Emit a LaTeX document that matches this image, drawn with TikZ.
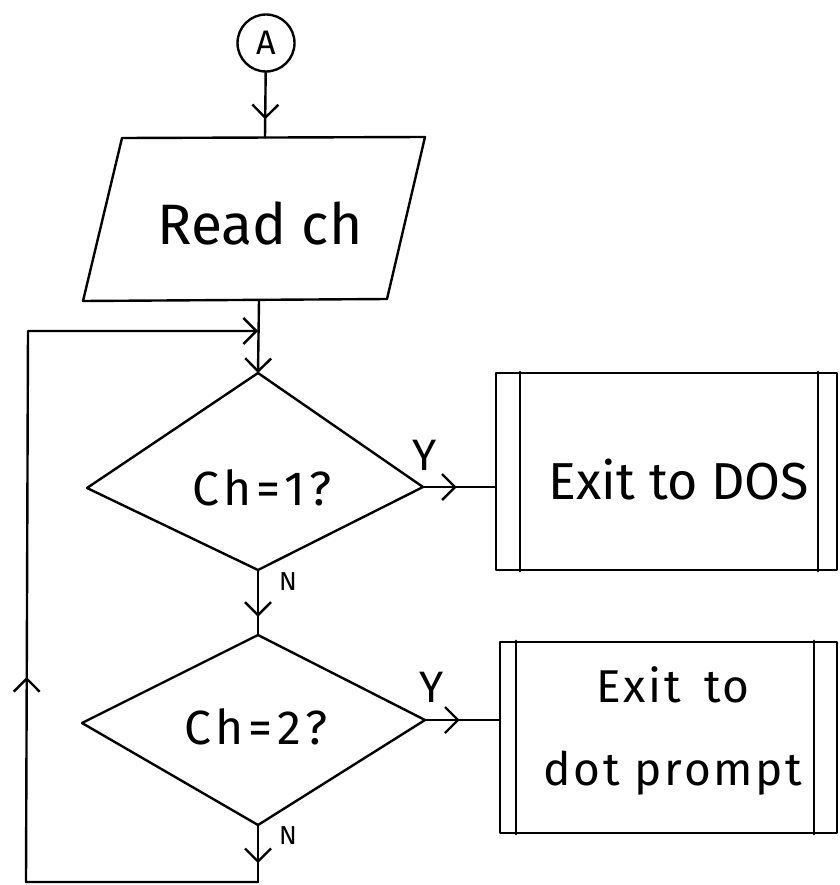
\documentclass[tikz,border=0pt]{standalone}
\usepackage{fontspec}
\setmainfont{Fira Sans}
\usetikzlibrary{arrows.meta,decorations.markings,calc}
\begin{document}
\begin{tikzpicture}[x=1pt,y=-1pt,
  line width=2.4pt, line join=round, line cap=round,
  >={Straight Barb[length=13pt,width=26pt,line width=2.4pt]},
  midarrow/.style={postaction={decorate},decoration={markings,mark=at position #1 with {\arrow{>}}}},
  bigtxt/.style={inner sep=0pt, font=\fontsize{57}{66}\selectfont},
  qtxt/.style={inner sep=0pt, font=\fontsize{48}{54}\selectfont\addfontfeatures{LetterSpace=10}},
  boxtxt/.style={inner sep=0pt, align=center, font=\fontsize{52}{83}\selectfont},
  boxtxtb/.style={inner sep=0pt, align=center, font=\fontsize{46}{83}\selectfont\addfontfeatures{LetterSpace=6}},
  ylbl/.style={inner sep=0pt, font=\fontsize{44}{50}\selectfont},
  nlbl/.style={inner sep=0pt, font=\fontsize{26}{30}\selectfont},
  procbox/.style={draw, inner sep=0pt, rectangle}
]
\useasboundingbox (0,0) rectangle (839,885);

% connector A
\node[circle, draw, minimum size=57pt, inner sep=0pt, font=\fontsize{34}{40}\selectfont] (A) at (266,43) {A};

% parallelogram Read ch
\coordinate (rtl) at (122,138);
\coordinate (rtr) at (425,137);
\coordinate (rbr) at (387,299);
\coordinate (rbl) at (83,301);
\draw (rtl) -- (rtr) -- (rbr) -- (rbl) -- cycle;
\node[bigtxt] (read) at (260,223) {Read ch};
\coordinate (rin) at (265,137.5);
\coordinate (rout) at (259,300);

\draw[midarrow=0.72] (A) -- (rin);

% decision 1
\coordinate (d1n) at (258,373);
\coordinate (d1e) at (423,487);
\coordinate (d1s) at (258,570);
\coordinate (d1w) at (87,488);
\draw (d1n) -- (d1e) -- (d1s) -- (d1w) -- cycle;
\node[qtxt] (q1) at (262,488) {Ch=1?};
\coordinate (j1) at (258,331);
\draw[->] (rout) -- (d1n);

% box 1
\node[procbox, minimum width=341pt, minimum height=197pt] (b1) at (666.5,471.5) {};
\draw ([xshift=25pt]b1.north west) -- ([xshift=25pt]b1.south west);
\draw ([xshift=-20pt]b1.north east) -- ([xshift=-20pt]b1.south east);
\node[boxtxt] (t1) at (679,480) {Exit to DOS};
\draw[midarrow=0.47] (d1e) -- (d1e -| b1.west);
\node[ylbl] (y1) at (425,455) {Y};

% decision 2
\coordinate (d2n) at (258,635);
\coordinate (d2e) at (425,720);
\coordinate (d2s) at (258,825);
\coordinate (d2w) at (82,723);
\draw (d2n) -- (d2e) -- (d2s) -- (d2w) -- cycle;
\node[qtxt] (q2) at (256,727) {Ch=2?};
\draw[midarrow=0.72] (d1s) -- (d2n);
\node[nlbl] (n1) at (288,582) {N};

% box 2
\node[procbox, minimum width=337pt, minimum height=191pt] (b2) at (668.5,737.5) {};
\draw ([xshift=17pt]b2.north west) -- ([xshift=17pt]b2.south west);
\draw ([xshift=-24pt]b2.north east) -- ([xshift=-24pt]b2.south east);
\node[boxtxtb] (t2) at (673,731) {Exit\hspace{0.5em}to\\dot prompt};
\draw[midarrow=0.47] (d2e) -- (d2e -| b2.west);
\node[ylbl] (y2) at (432,687) {Y};

% loop back
\coordinate (bl) at (258,882);
\coordinate (bl2) at (26,882);
\coordinate (tl) at (28,331);
\draw[midarrow=0.67] (d2s) -- (bl);
\node[nlbl] (n2) at (288,836) {N};
\draw[->, postaction={decorate}, decoration={markings, mark=at position 437pt with {\arrow{>}}}]
  (bl) -- (bl2) -- (tl) -- (j1);
\end{tikzpicture}
\end{document}
